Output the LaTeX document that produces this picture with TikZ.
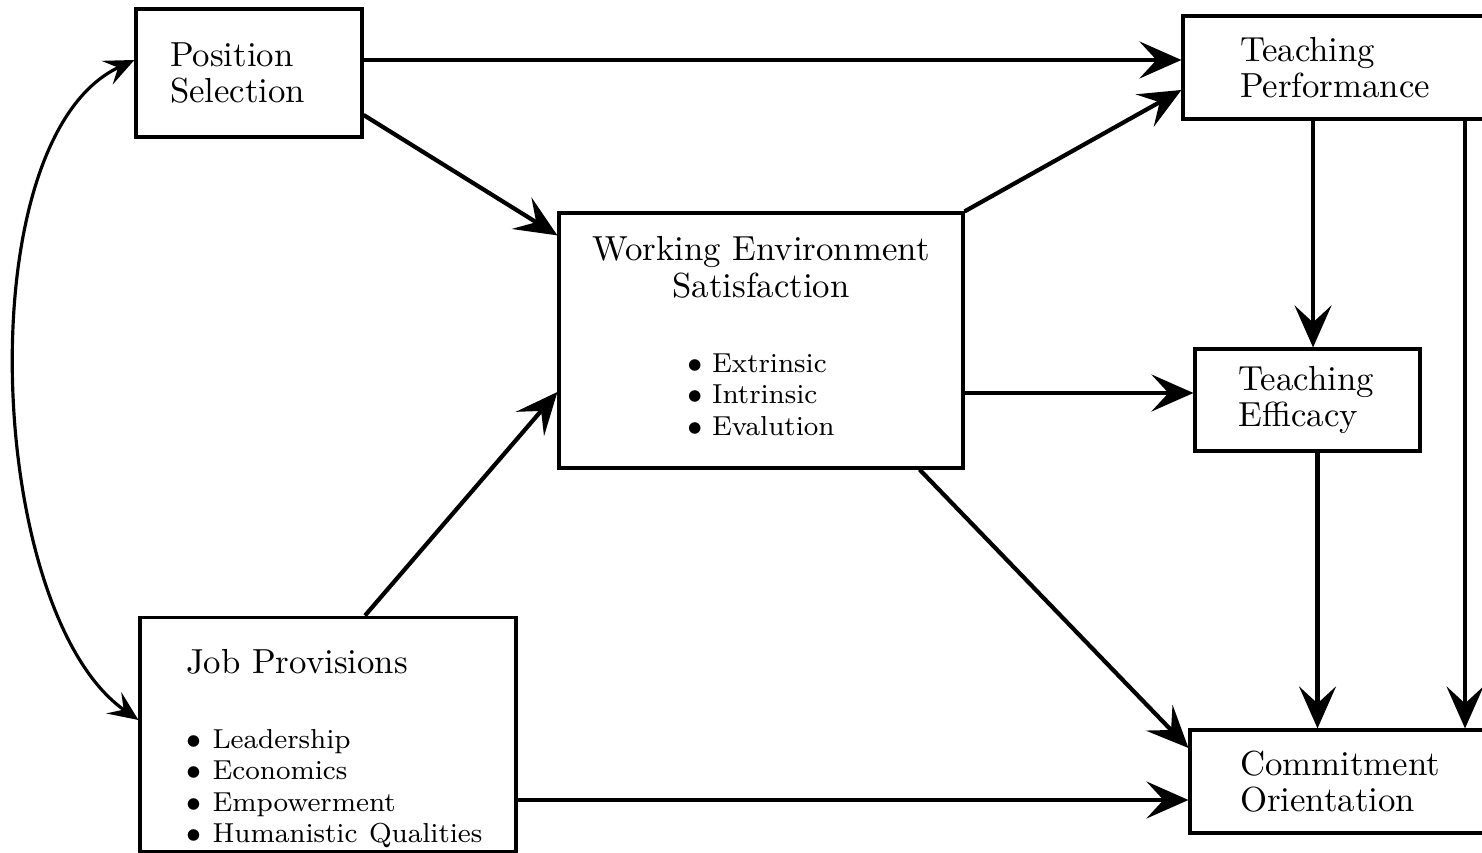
\documentclass[tikz,border=0pt]{standalone}
\usetikzlibrary{arrows.meta}
\newcommand{\itemsize}{\fontsize{7.8}{8.9}\selectfont}
\begin{document}
\begin{tikzpicture}[>={Stealth[length=0.42cm,width=0.37cm,inset=0.17cm]},
  box/.style={draw, line width=0.9pt, rectangle, inner sep=0pt, align=left,
    font=\fontsize{9.9}{10.4}\selectfont},
  link/.style={->, line width=1.2pt}]
\useasboundingbox (0,0) rectangle (14.82,8.52);
\clip (0,0) rectangle (14.82,8.52);

\node[box, minimum width=2.26cm, minimum height=1.28cm, text width=1.58cm] (ps) at (2.49,7.79) {Position\\Selection};
\node[box, minimum width=3.37cm, minimum height=1.03cm, text width=2.23cm] (tp) at (13.515,7.845) {Teaching\\Performance};
\node[box, minimum width=4.04cm, minimum height=2.55cm, align=center] (wes) at (7.61,5.115)
  {Working Environment\\Satisfaction\\[11pt]{\itemsize\begin{tabular}[t]{@{}l@{}}$\bullet$ Extrinsic\\$\bullet$ Intrinsic\\$\bullet$ Evalution\end{tabular}}};
\node[box, minimum width=2.25cm, minimum height=1.02cm, text width=1.38cm] (te) at (13.075,4.52) {Teaching\\Efficacy};
\node[box, minimum width=3.76cm, minimum height=2.29cm, text width=2.84cm] (jp) at (3.28,1.175)
  {\rule{0pt}{16pt}Job Provisions\\[11pt]{\itemsize\begin{tabular}[t]{@{}l@{}}$\bullet$ Leadership\\$\bullet$ Economics\\$\bullet$ Empowerment\\$\bullet$ Humanistic Qualities\end{tabular}}};
\node[box, minimum width=3.3cm, minimum height=1.03cm, text width=2.3cm] (co) at (13.55,0.705) {Commitment\\Orientation};

\coordinate (ps1) at ([yshift=0.13cm]ps.east);
\draw[link] (ps1) -- (ps1 -| tp.west);
\draw[link] ([yshift=-0.42cm]ps.east) -- ([yshift=-0.24cm]wes.north west);
\draw[link] (wes.north east) -- ([yshift=-0.225cm]tp.west);
\draw[link] ([xshift=0.37cm]jp.north) -- ([yshift=-0.515cm]wes.west);
\coordinate (te1) at ([yshift=0.07cm]te.west);
\draw[link] (te1 -| wes.east) -- (te1);
\draw[link] ([xshift=-0.45cm]wes.south east) -- ([yshift=0.335cm]co.west);
\coordinate (co1) at ([yshift=-0.185cm]co.west);
\draw[link] (co1 -| jp.east) -- (co1);
\coordinate (te2) at ([xshift=0.055cm]te.north);
\draw[link] (te2 |- tp.south) -- (te2);
\coordinate (te3) at ([xshift=0.1cm]te.south);
\draw[link] (te3) -- (te3 |- co.north);
\coordinate (tp1) at ([xshift=1.135cm]tp.south);
\draw[link] (tp1) -- (tp1 |- co.north);
\draw[>={Stealth[length=0.3cm,width=0.26cm,inset=0.12cm]}, <->, line width=0.9pt]
  ([yshift=0.13cm]ps.west) to[out=205, in=145, looseness=0.72] ([yshift=0.145cm]jp.west);
\end{tikzpicture}
\end{document}
